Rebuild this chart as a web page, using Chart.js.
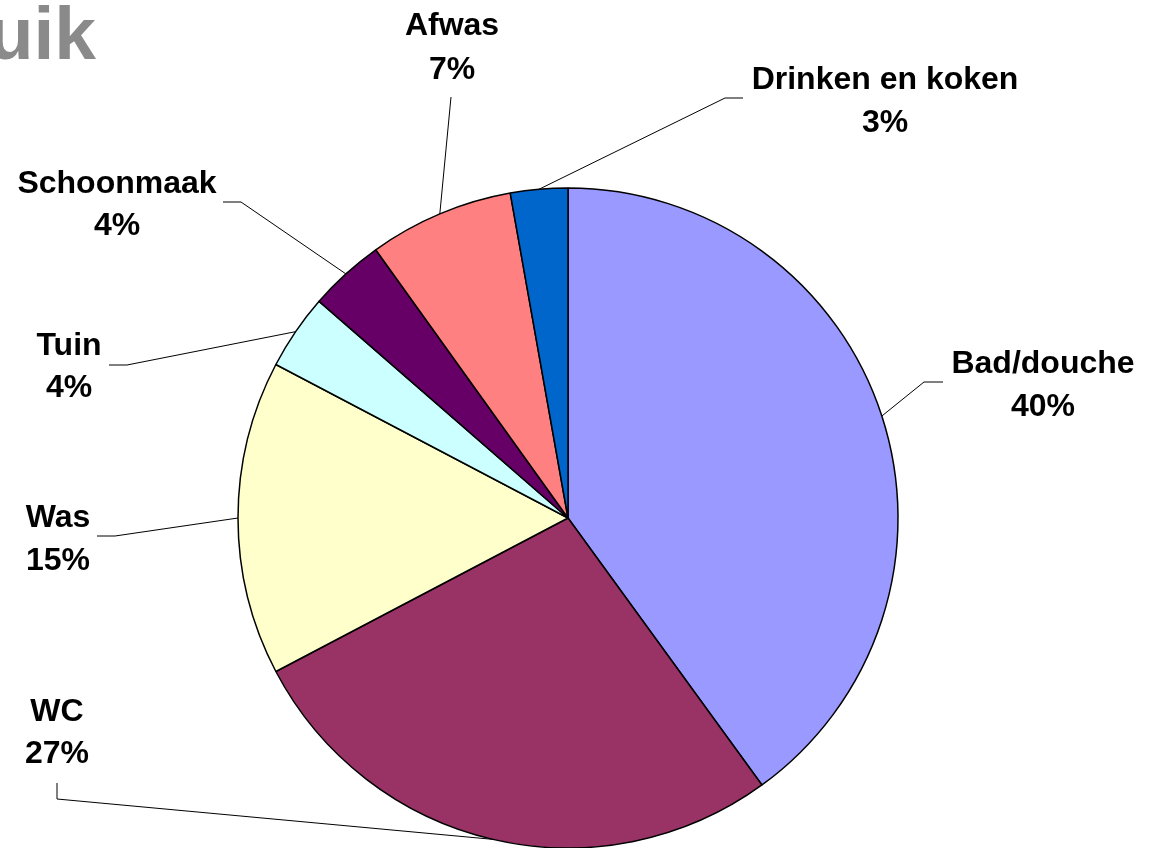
<!DOCTYPE html>
<html>
<head>
<meta charset="utf-8">
<script src="https://cdn.jsdelivr.net/npm/chart.js@4/dist/chart.umd.min.js"></script>
<style>
  html, body { margin: 0; padding: 0; background: #ffffff; }
  #wrap { width: 1157px; height: 848px; position: relative; overflow: hidden; }
</style>
</head>
<body>
<div id="wrap"><canvas id="c" width="1157" height="848"></canvas></div>
<script>
// ---- Data ----
const titleText = 'uik';
const categories = ['Bad/douche', 'WC', 'Was', 'Tuin', 'Schoonmaak', 'Afwas', 'Drinken en koken'];
const shares = [40.0, 27.3, 15.4, 3.7, 3.7, 7.1, 2.8];
const sliceColors = ['#9999FF', '#993366', '#FFFFCC', '#CCFFFF', '#660066', '#FF8080', '#0066CC'];

// ---- Label layout (text anchor + leader elbow points, from label toward the slice) ----
const labelLayout = [
  { x: 1043, y1: 373, y2: 416, leader: [[943, 382], [924, 382]] },
  { x: 57,   y1: 721, y2: 763, leader: [[57, 783], [57, 799]] },
  { x: 58,   y1: 527, y2: 570, leader: [[97, 536], [115, 536]] },
  { x: 69,   y1: 355, y2: 397, leader: [[109, 365], [127, 365]] },
  { x: 117,  y1: 193, y2: 235, leader: [[223, 202], [241, 202]] },
  { x: 452,  y1: 35,  y2: 79,  leader: [[451, 97]] },
  { x: 885,  y1: 89,  y2: 132, leader: [[743, 98], [725, 98]] }
];

const labelFont = 'bold 32px "Liberation Sans", Arial, sans-serif';

const total = shares.reduce((a, b) => a + b, 0);

const labelPlugin = {
  id: 'pieLabels',
  afterDatasetsDraw(chart) {
    const ctx = chart.ctx;
    const meta = chart.getDatasetMeta(0);
    ctx.save();
    // leader lines
    ctx.strokeStyle = '#000000';
    ctx.lineWidth = 1;
    meta.data.forEach((arc, i) => {
      const p = arc.getProps(['x', 'y', 'startAngle', 'endAngle', 'outerRadius'], true);
      const mid = (p.startAngle + p.endAngle) / 2;
      const ex = p.x + Math.cos(mid) * p.outerRadius;
      const ey = p.y + Math.sin(mid) * p.outerRadius;
      const pts = labelLayout[i].leader;
      ctx.beginPath();
      ctx.moveTo(pts[0][0], pts[0][1]);
      for (let k = 1; k < pts.length; k++) ctx.lineTo(pts[k][0], pts[k][1]);
      ctx.lineTo(ex, ey);
      ctx.stroke();
    });
    // texts
    ctx.fillStyle = '#000000';
    ctx.font = labelFont;
    ctx.textAlign = 'center';
    ctx.textBaseline = 'alphabetic';
    categories.forEach((name, i) => {
      const L = labelLayout[i];
      const pct = Math.round(shares[i] / total * 100) + '%';
      ctx.fillText(name, L.x, L.y1);
      ctx.fillText(pct, L.x, L.y2);
    });
    // partial title
    ctx.fillStyle = '#8a8a8a';
    ctx.font = 'bold 75px "Liberation Sans", Arial, sans-serif';
    ctx.textAlign = 'right';
    ctx.fillText(titleText, 96, 59);
    ctx.restore();
  }
};

new Chart(document.getElementById('c'), {
  type: 'pie',
  data: {
    labels: categories,
    datasets: [{
      data: shares,
      backgroundColor: sliceColors,
      borderColor: '#000000',
      borderWidth: 1.5
    }]
  },
  options: {
    responsive: false,
    animation: false,
    radius: 330,
    layout: { padding: { left: 238, right: 259, top: 188, bottom: 0 } },
    plugins: {
      legend: { display: false },
      tooltip: { enabled: false },
      title: { display: false }
    }
  },
  plugins: [labelPlugin]
});
</script>
</body>
</html>
